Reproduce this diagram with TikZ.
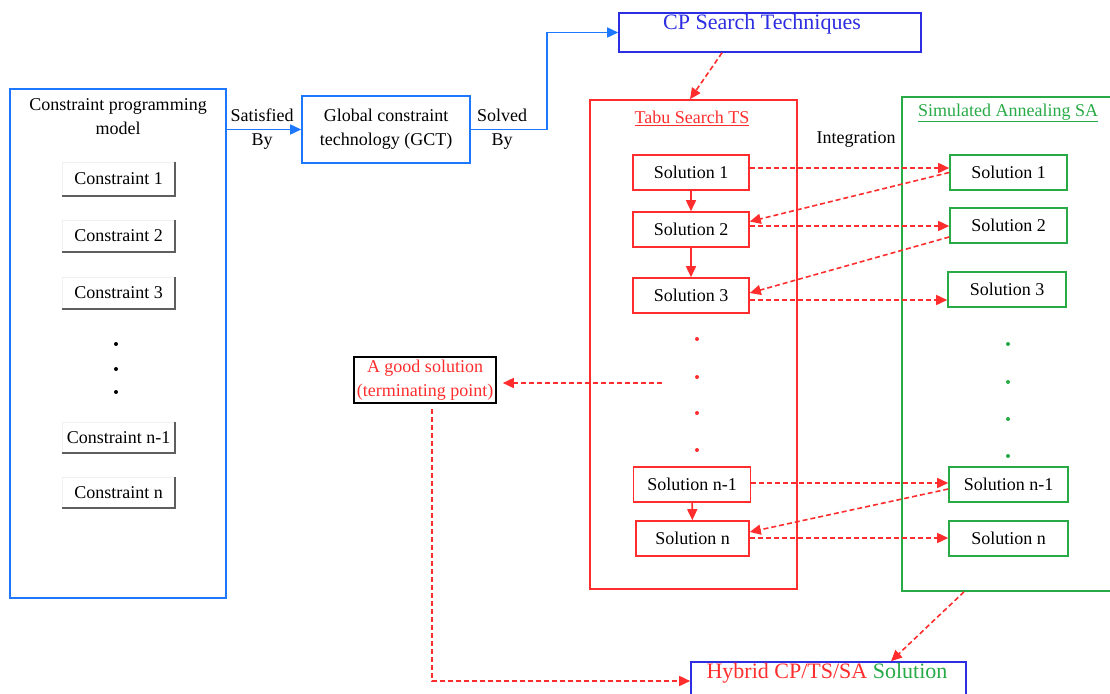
\documentclass[tikz,border=0pt]{standalone}
\usepackage{fontspec}
\setmainfont{Liberation Serif}
\usetikzlibrary{arrows.meta}
\definecolor{cpblue}{RGB}{30,120,255}
\definecolor{dblue}{RGB}{45,45,225}
\definecolor{tsred}{RGB}{255,45,45}
\definecolor{sagreen}{RGB}{40,170,70}
\definecolor{shade}{RGB}{95,95,95}
\begin{document}
\begin{tikzpicture}[x=1pt,y=-1pt,
  txt/.style={font=\fontsize{18}{24}\selectfont, inner sep=0pt, align=center},
  bigtxt/.style={font=\fontsize{22}{24}\selectfont, inner sep=0pt, align=center},
  box/.style={draw, rectangle, line width=1.6pt, inner sep=0pt, txt},
  bluebox/.style={box, draw=cpblue},
  cbox/.style={box, draw=gray!12, line width=0.8pt},
  cshade/.style={draw=shade, line width=2pt},
  tsbox/.style={box, draw=tsred},
  sabox/.style={box, draw=sagreen},
  dotmark/.style={circle, fill, inner sep=0pt, minimum size=4pt},
  bluearrow/.style={draw=cpblue, line width=1.6pt, -{Triangle[length=11pt,width=10pt]}},
  redarrow/.style={draw=tsred, line width=1.6pt, -{Triangle[length=11pt,width=10pt]}},
  reddash/.style={draw=tsred, line width=1.6pt, dash pattern=on 5pt off 3pt, -{Triangle[length=11pt,width=10pt]}}
]
\useasboundingbox (0,0) rectangle (1110,693);

% ---- left: constraint programming model
\node[bluebox, minimum width=216pt, minimum height=509pt] (cpm) at (118,343.5) {};
\node[txt] (cpmtitle) at (118,117) {Constraint programming\\model};
\node[cbox, minimum width=113pt, minimum height=34pt] (c1) at (118.5,179) {Constraint 1};
\node[cbox, minimum width=113pt, minimum height=32pt] (c2) at (118.5,236) {Constraint 2};
\node[cbox, minimum width=113pt, minimum height=32pt] (c3) at (118.5,293) {Constraint 3};
\node[cbox, minimum width=113pt, minimum height=31pt] (cn1) at (118.5,437.5) {Constraint n-1};
\node[cbox, minimum width=113pt, minimum height=31pt] (cn) at (118.5,492.5) {Constraint n};
\foreach \c in {c1,c2,c3,cn1,cn}{
  \draw[cshade] (\c.north east) -- (\c.south east) -- (\c.south west);
}
\node[dotmark] (cd1) at (116,344) {};
\node[dotmark] (cd2) at (116,369) {};
\node[dotmark] (cd3) at (116,392) {};

% ---- GCT
\node[bluebox, minimum width=168pt, minimum height=67pt] (gct) at (386,129.5) {Global constraint\\technology (GCT)};
\draw[bluearrow] (gct.west -| cpm.east) -- (gct.west);
\node[txt] (satby) at (262,129) {Satisfied\\By};

% ---- CP search techniques
\node[box, draw=dblue, minimum width=302pt, minimum height=39pt] (cps) at (770,32.5) {};
\node[bigtxt, text=dblue] (cpstext) at (762,24) {CP Search Techniques};
\draw[bluearrow] (gct.east) -- ++(76,0) |- (cps.west);
\node[txt] (solby) at (502,129) {Solved\\By};

% ---- Tabu search
\node[tsbox, minimum width=207pt, minimum height=489pt] (ts) at (693.5,344.5) {};
\node[txt, text=tsred] (tstitle) at (692,118) {\underline{Tabu Search TS}};
\node[tsbox, minimum width=116pt, minimum height=35pt] (ts1) at (691,172.5) {Solution 1};
\node[tsbox, minimum width=116pt, minimum height=35pt] (ts2) at (691,229.5) {Solution 2};
\node[tsbox, minimum width=116pt, minimum height=35pt] (ts3) at (691,295.5) {Solution 3};
\node[tsbox, minimum width=117pt, minimum height=35pt] (tsn1) at (692,484.5) {Solution n-1};
\node[tsbox, minimum width=113pt, minimum height=35pt] (tsn) at (692.5,538.5) {Solution n};
\node[dotmark, fill=tsred] (td1) at (697,339) {};
\node[dotmark, fill=tsred] (td2) at (697,377) {};
\node[dotmark, fill=tsred] (td3) at (697,413) {};
\node[dotmark, fill=tsred] (td4) at (697,450) {};
\draw[redarrow] (ts1) -- (ts2);
\draw[redarrow] (ts2) -- (ts3);
\draw[redarrow] (tsn1) -- (tsn);
\draw[reddash] ([xshift=-48pt]cps.south) -- ([xshift=-3.5pt]ts.north);

% ---- Simulated annealing
\node[sabox, minimum width=211pt, minimum height=494pt] (sa) at (1007.5,344) {};
\node[txt, text=sagreen] (satitle) at (1008,113) {\underline{Simulated Annealing SA}};
\node[sabox, minimum width=117pt, minimum height=35pt] (sa1) at (1008.5,172.5) {Solution 1};
\node[sabox, minimum width=117pt, minimum height=35pt] (sa2) at (1008.5,225.5) {Solution 2};
\node[sabox, minimum width=118pt, minimum height=35pt] (sa3) at (1007,289.5) {Solution 3};
\node[sabox, minimum width=119pt, minimum height=35pt] (san1) at (1008.5,484.5) {Solution n-1};
\node[sabox, minimum width=119pt, minimum height=35pt] (san) at (1008.5,538.5) {Solution n};
\node[dotmark, fill=sagreen] (sd1) at (1008,344) {};
\node[dotmark, fill=sagreen] (sd2) at (1008,382) {};
\node[dotmark, fill=sagreen] (sd3) at (1008,419) {};
\node[dotmark, fill=sagreen] (sd4) at (1008,456) {};
\node[txt] (integ) at (856,139) {Integration};

% ---- integration arrows
\draw[reddash] ([yshift=4.5pt]ts1.east) -- ([yshift=4.5pt]sa1.west);
\draw[reddash] (sa1.west) -- ([yshift=8pt]ts2.east);
\draw[reddash] ([yshift=3.5pt]ts2.east) -- ([yshift=-0.5pt]sa2.west);
\draw[reddash] ([yshift=-11.5pt]sa2.west) -- ([yshift=2.5pt]ts3.east);
\draw[reddash] ([yshift=-4.5pt]ts3.east) -- ([yshift=-10.5pt]sa3.west);
\draw[reddash] ([yshift=1.5pt]tsn1.east) -- ([yshift=1.5pt]san1.west);
\draw[reddash] ([yshift=-4.5pt]san1.west) -- ([yshift=6.5pt]tsn.east);
\draw[reddash] ([yshift=0.5pt]tsn.east) -- ([yshift=0.5pt]san.west);

% ---- good solution
\node[box, draw=black, text=tsred, minimum width=142pt, minimum height=46pt] (good) at (425,380) {A good solution\\(terminating point)};
\coordinate (gsrc) at (662,383);
\draw[reddash] (gsrc) -- ([xshift=6pt]good.east |- gsrc);

% ---- hybrid
\node[box, draw=dblue, minimum width=275pt, minimum height=38pt] (hybrid) at (828.5,681) {};
\node[bigtxt] (hybtext) at (827,673) {\textcolor{tsred}{Hybrid CP/TS/SA} \textcolor{sagreen}{Solution}};
\draw[reddash] ([xshift=7pt,yshift=-5pt]good.south) |- (hybrid.west);
\draw[reddash] ([xshift=-43.5pt]sa.south) -- ([xshift=62.5pt]hybrid.north);
\end{tikzpicture}
\end{document}
